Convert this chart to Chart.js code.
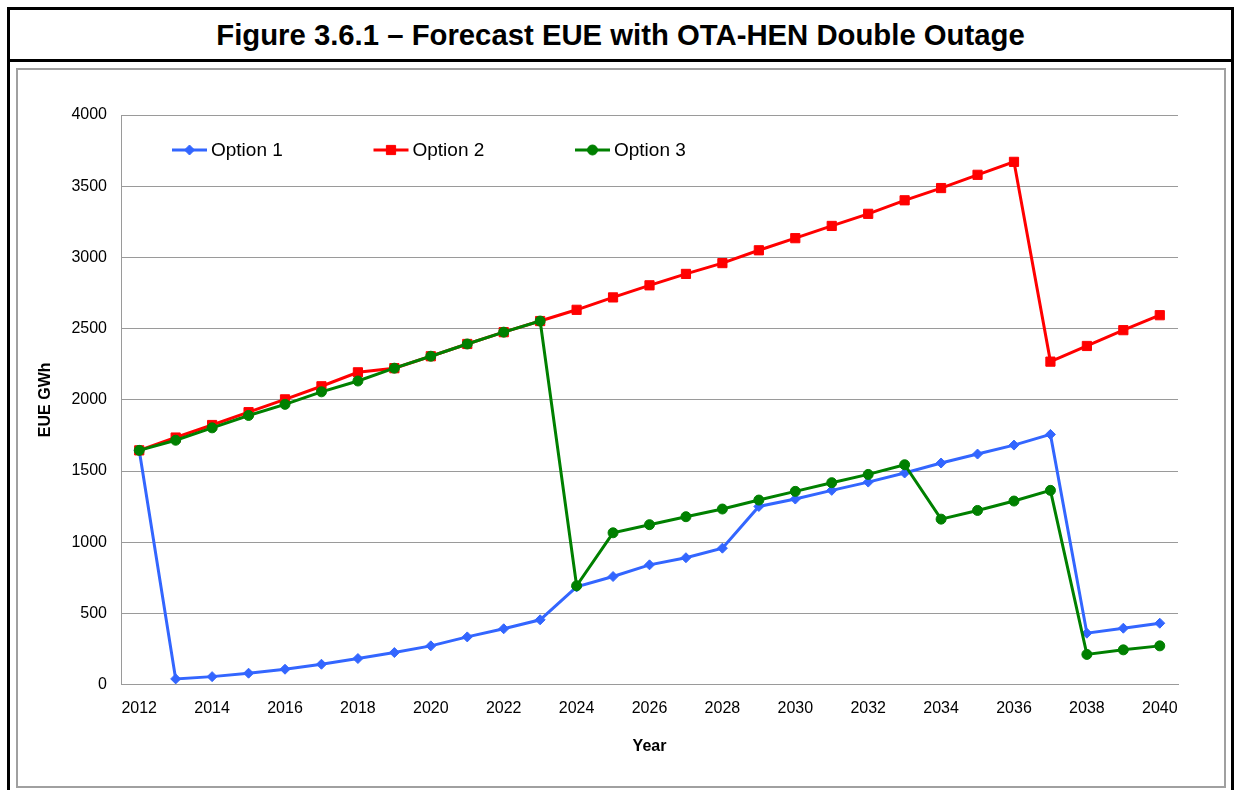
<!doctype html>
<html lang="en">
  <head>
    <meta charset="UTF-8" />
    <title>Forecast EUE with OTA-HEN Double Outage</title>
    <script src="https://cdn.jsdelivr.net/npm/chart.js"></script>
    <style>
      body {
        margin: 0;
        background: #fff;
        font-family: 'Liberation Sans', Arial, sans-serif;
      }

      #frame {
        position: absolute;
        left: 7px;
        top: 7px;
        width: 1221px;
        height: 900px;
        border: 3px solid #000;
      }

      #title {
        position: absolute;
        left: 10px;
        top: 10px;
        width: 1221px;
        height: 49px;
        line-height: 49px;
        border-bottom: 3px solid #000;
        text-align: center;
        font-weight: bold;
        font-size: 29.3px;
        color: #000;
      }

      #box {
        position: absolute;
        left: 16px;
        top: 68px;
        width: 1206px;
        height: 716px;
        border: 2px solid #a0a0a0;
      }

      #box canvas {
        display: block;
      }
    </style>
  </head>
  <body>
    <div id="frame"></div>
    <div id="title">Figure 3.6.1 – Forecast EUE with OTA-HEN Double Outage</div>
    <div id="box">
      <canvas id="eueChart" width="1206" height="716"></canvas>
    </div>

    <script>
      const years = ['2012', '2013', '2014', '2015', '2016', '2017', '2018', '2019', '2020', '2021',
        '2022', '2023', '2024', '2025', '2026', '2027', '2028', '2029', '2030', '2031',
        '2032', '2033', '2034', '2035', '2036', '2037', '2038', '2039', '2040'];

      const option1 = [1645, 40, 56, 80, 108, 143, 183, 225, 272, 335, 392, 455, 686, 759, 841,
        891, 958, 1251, 1303, 1364, 1422, 1486, 1556, 1619, 1682, 1757, 361, 396, 431];

      const option2 = [1645, 1735, 1823, 1913, 2003, 2095, 2193, 2222, 2306, 2392, 2475, 2553, 2632, 2719, 2804,
        2884, 2960, 3050, 3135, 3221, 3306, 3401, 3487, 3580, 3671, 2268, 2378, 2489, 2594];

      const option3 = [1645, 1716, 1803, 1890, 1968, 2056, 2132, 2222, 2306, 2392, 2475, 2553, 694, 1066, 1123,
        1179, 1233, 1296, 1357, 1418, 1476, 1544, 1162, 1223, 1289, 1364, 212, 244, 272];

      const seriesNames = ['Option 1', 'Option 2', 'Option 3'];
      const yTicks = [0, 500, 1000, 1500, 2000, 2500, 3000, 3500, 4000];

      const FONT = "'Liberation Sans', Arial, sans-serif";
      const GRID = '#9a9a9a';

      // legend sits inside the plot area, like the Excel original
      const insideLegend = {
        id: 'insideLegend',
        afterDraw(chart) {
          const ctx = chart.ctx;
          const area = chart.chartArea;
          const y = area.top + 35;
          ctx.save();
          chart.data.datasets.forEach((ds, i) => {
            const x0 = area.left + 51 + i * 201.5;
            ctx.strokeStyle = ds.borderColor;
            ctx.lineWidth = 3;
            ctx.beginPath();
            ctx.moveTo(x0, y);
            ctx.lineTo(x0 + 35, y);
            ctx.stroke();
            ctx.fillStyle = ds.pointBackgroundColor;
            ctx.strokeStyle = ds.pointBorderColor;
            ctx.lineWidth = 1;
            Chart.helpers.drawPoint(ctx, {
              pointStyle: ds.pointStyle,
              radius: ds.pointRadius,
              borderWidth: 1,
              rotation: 0
            }, x0 + 17.5, y);
            ctx.fillStyle = '#000';
            ctx.font = '19px ' + FONT;
            ctx.textBaseline = 'middle';
            ctx.fillText(ds.label, x0 + 39, y + 1);
          });
          ctx.restore();
        }
      };

      function series(label, data, color, style, radius, order) {
        return {
          label: label,
          data: data,
          borderColor: color,
          backgroundColor: color,
          borderWidth: 3,
          pointStyle: style,
          pointRadius: radius,
          pointBackgroundColor: color,
          pointBorderColor: color,
          pointBorderWidth: 1,
          pointHoverRadius: radius,
          tension: 0,
          order: order
        };
      }

      new Chart(document.getElementById('eueChart').getContext('2d'), {
        type: 'line',
        data: {
          labels: years,
          datasets: [
            series(seriesNames[0], option1, '#3366ff', 'rectRot', 5, 3),
            series(seriesNames[1], option2, '#ff0000', 'rect', 6.5, 2),
            series(seriesNames[2], option3, '#008000', 'circle', 5, 1)
          ]
        },
        options: {
          responsive: false,
          animation: false,
          layout: { padding: { left: 18, top: 45, right: 46, bottom: 30 } },
          plugins: {
            legend: { display: false },
            tooltip: { enabled: false }
          },
          scales: {
            x: {
              offset: true,
              grid: { display: false, drawTicks: false },
              border: { display: true, color: GRID, width: 1 },
              ticks: {
                autoSkip: false,
                maxRotation: 0,
                padding: 14,
                color: '#000',
                font: { family: FONT, size: 16 },
                callback: function (value, index) {
                  return index % 2 === 0 ? years[index] : '';
                }
              },
              title: {
                display: true,
                text: 'Year',
                color: '#000',
                font: { family: FONT, size: 16, weight: 'bold' },
                padding: { top: 5, bottom: 0 }
              }
            },
            y: {
              min: yTicks[0],
              max: yTicks[yTicks.length - 1],
              afterFit: function (scale) {
                scale.width = 85;
              },
              afterBuildTicks: function (scale) {
                scale.ticks = yTicks.map(v => ({ value: v }));
              },
              grid: { color: GRID, lineWidth: 1, drawTicks: false },
              border: { display: true, color: GRID, width: 1 },
              ticks: {
                padding: 14,
                color: '#000',
                font: { family: FONT, size: 16 },
                callback: function (value) {
                  return String(value);
                }
              },
              title: {
                display: true,
                text: 'EUE GWh',
                color: '#000',
                font: { family: FONT, size: 16, weight: 'bold' },
                padding: 0
              }
            }
          }
        },
        plugins: [insideLegend]
      });
    </script>
  </body>
</html>
